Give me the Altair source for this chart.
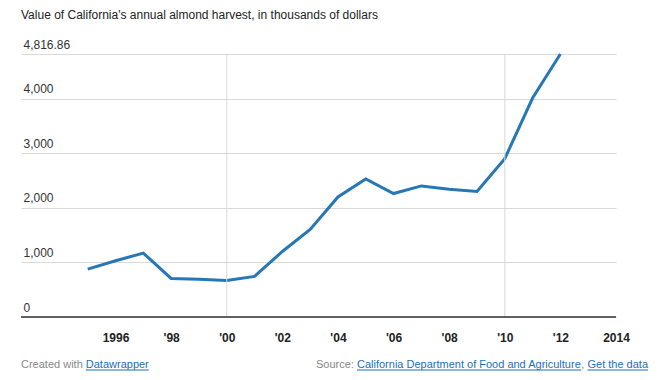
import altair as alt
import pandas as pd

# ---- data ----
years = list(range(1995, 2013))
values = [877, 1030, 1170, 707, 690, 670, 744, 1200, 1603, 2199,
          2528, 2261, 2401, 2340, 2298, 2900, 4010, 4816.86]
y_ticks = [0, 1000, 2000, 3000, 4000, 4816.86]
x_ticks = list(range(1996, 2015, 2))
decade_lines = [2000, 2010]
x_domain = [1992.6, 2014]
y_domain = [0, 4816.86]

title_text = "Value of California's annual almond harvest, in thousands of dollars"
footer_left = [("Created with ", False), ("Datawrapper", True)]
footer_right = [("Source: ", False),
                ("California Department of Food and Agriculture", True),
                (", ", False), ("Get the data", True)]

# ---- styling ----
FONT = "Liberation Sans"
W, H = 595, 263
LINE_COLOR = "#2677b5"
GRID_COLOR = "#d9d9d9"
LINK = "#1d6fb8"
GREY = "#888888"

# Arial/Liberation Sans advance widths (per 1000 em) for footer layout
_w = {' ': 278, ',': 278, ':': 278, '.': 278, "'": 191,
      'A': 667, 'C': 722, 'D': 722, 'F': 611, 'G': 778, 'S': 667,
      'a': 556, 'b': 556, 'c': 500, 'd': 556, 'e': 556, 'f': 278, 'g': 556,
      'h': 556, 'i': 222, 'l': 222, 'm': 833, 'n': 556, 'o': 556, 'p': 556,
      'r': 333, 's': 500, 't': 278, 'u': 556, 'v': 500, 'w': 722, 'y': 500}


def text_w(s, size=11):
    return sum(_w.get(c, 556) for c in s) * size / 1000.0


def segments(parts, start):
    rows, x = [], start
    for txt, link in parts:
        w = text_w(txt)
        rows.append((txt, x, x + w, link))
        x += w
    return rows


FOOT_Y = 314
left_rows = segments(footer_left, 0)
right_total = sum(text_w(t) for t, _ in footer_right)
right_rows = segments(footer_right, 627 - right_total)

df = pd.DataFrame({"year": years, "value": values})
one = pd.DataFrame({"k": [0]})

xscale = alt.Scale(domain=x_domain, nice=False, zero=False)
yscale = alt.Scale(domain=y_domain, nice=False)

line = alt.Chart(df).mark_line(color=LINE_COLOR, strokeWidth=3).encode(
    x=alt.X("year:Q", scale=xscale, title=None, axis=alt.Axis(
        values=x_ticks,
        labelExpr="(datum.value == 1996 || datum.value == 2014) ? ('' + datum.value) : (\"'\" + substring('' + datum.value, 2, 4))",
        grid=False, ticks=False, domain=False, labelFlush=False,
        labelPadding=15, labelFontWeight="bold", labelFontSize=12,
        labelColor="#222222", labelFont=FONT, labelOverlap=False)),
    y=alt.Y("value:Q", scale=yscale, title=None, axis=alt.Axis(
        values=y_ticks, labelExpr="format(datum.value, ',')",
        grid=True, gridColor=GRID_COLOR, gridWidth=1, ticks=False,
        domain=False, labelAlign="left", labelBaseline="bottom",
        labelPadding=-2, labelOffset=-3, labelOverlap=False,
        labelFontSize=12, labelColor="#333333", labelFont=FONT)),
)

vrules = alt.Chart(pd.DataFrame({"year": decade_lines})).mark_rule(
    color=GRID_COLOR, strokeWidth=1).encode(
    x=alt.X("year:Q", scale=xscale, title=None),
    y=alt.value(0), y2=alt.value(H))

baseline = alt.Chart(pd.DataFrame({"value": [0]})).mark_rule(
    color="#333333", strokeWidth=1.5).encode(
    y=alt.Y("value:Q", scale=yscale, title=None))

title = alt.Chart(one).mark_text(
    align="left", baseline="alphabetic", font=FONT, fontSize=12, color="#222222",
    text=title_text).encode(x=alt.value(0), y=alt.value(-35))

foot_layers = []
for txt, x0, x1, link in left_rows + right_rows:
    foot_layers.append(alt.Chart(one).mark_text(
        align="left", baseline="alphabetic", font=FONT, fontSize=11,
        color=LINK if link else GREY, text=txt).encode(
        x=alt.value(x0), y=alt.value(FOOT_Y)))
    if link:
        foot_layers.append(alt.Chart(one).mark_rule(color=LINK, strokeWidth=1).encode(
            x=alt.value(x0), x2=alt.value(x1), y=alt.value(FOOT_Y + 2)))

chart = alt.layer(line, vrules, baseline, title, *foot_layers).properties(
    width=W, height=H,
    autosize=alt.AutoSizeParams(type="none"),
    padding={"left": 13, "top": 46, "right": 38, "bottom": 55},
).configure(font=FONT).configure_view(stroke=None)

chart.save("out.html", embed_options={"renderer": "svg", "actions": False})
